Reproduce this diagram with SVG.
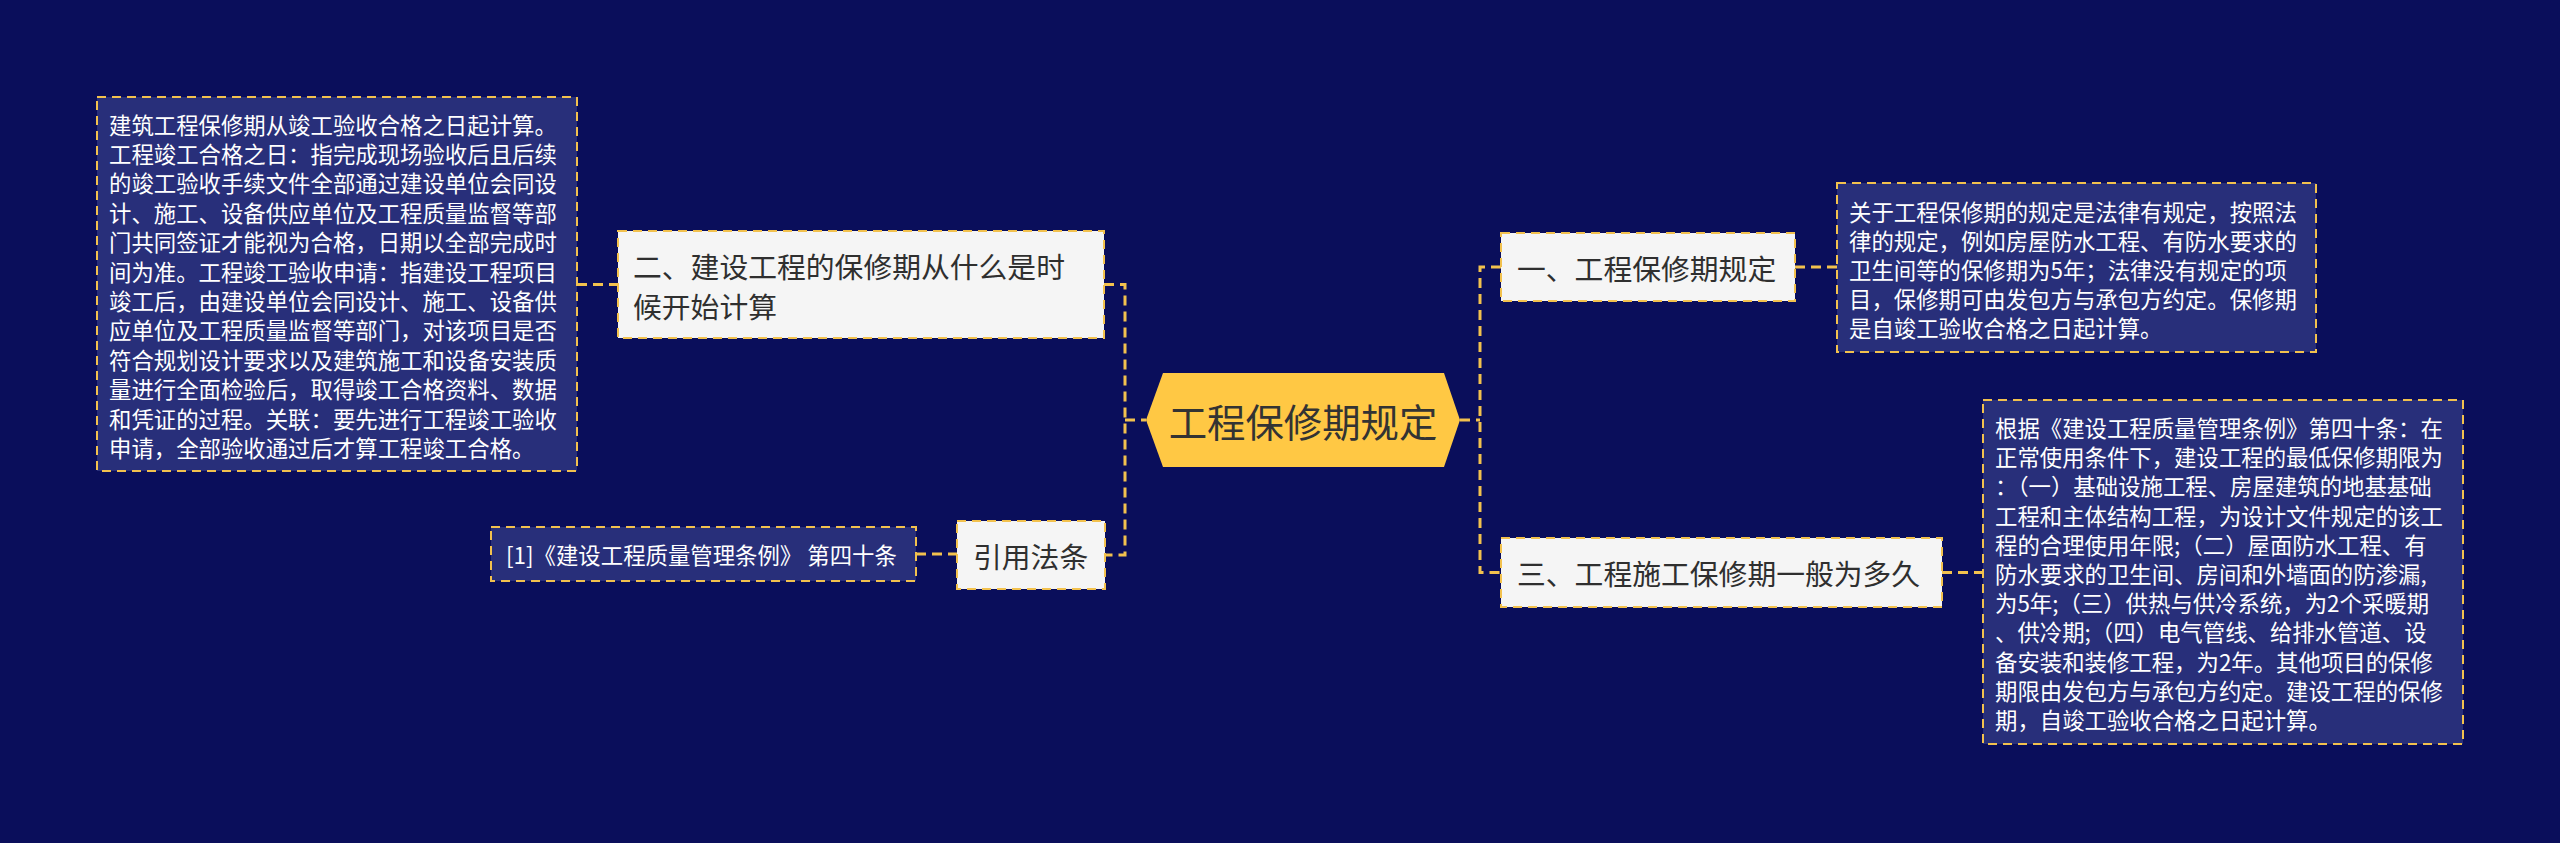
<svg xmlns="http://www.w3.org/2000/svg" width="2560" height="843" viewBox="0 0 2560 843">
<style>
.bg{fill:#0A0E5B}
.conn{fill:none;stroke:#F2C14E;stroke-width:3;stroke-dasharray:10 6}
.leaf{fill:#282F7A;stroke:#F2C14E;stroke-width:2;stroke-dasharray:9 6}
.node{fill:#F5F5F5;stroke:#F2C14E;stroke-width:2;stroke-dasharray:9 6}
.lt{font-family:"Noto Sans CJK SC","Noto Sans",sans-serif;font-size:22.4px;fill:#FFFFFF;dominant-baseline:central}
.nt{font-family:"Noto Sans CJK SC","Noto Sans",sans-serif;font-size:28.8px;fill:#2F2F2F;dominant-baseline:central}
.ct{font-family:"Noto Sans CJK SC","Noto Sans",sans-serif;font-size:38.4px;fill:#333333;dominant-baseline:central;text-anchor:middle}
</style>
<rect class="bg" x="0" y="0" width="2560" height="843"/>
<g id="connectors">
<path class="conn" d="M577 284.5 H618"/>
<path class="conn" d="M916 554 H957"/>
<path class="conn" d="M1104 284.5 H1125 V555 H1105"/>
<path class="conn" d="M1125 420 H1146"/>
<path class="conn" d="M1460 420 H1480"/>
<path class="conn" d="M1501 267 H1480 V572.5 H1501"/>
<path class="conn" d="M1795 267 H1837"/>
<path class="conn" d="M1942 572.5 H1983"/>
</g>
<g id="center">
<polygon points="1146,420 1163,373 1444,373 1460,420 1444,467 1163,467" fill="#FFC844"/>
<text class="ct" x="1303" y="420">工程保修期规定</text>
</g>
<g id="node-2">
<rect class="node" x="618" y="231" width="486" height="107"/>
<text class="nt" x="633" y="265">二、建设工程的保修期从什么是时</text>
<text class="nt" x="633" y="305">候开始计算</text>
</g>
<g id="leaf-2">
<rect class="leaf" x="97" y="97" width="480" height="374"/>
<text class="lt" x="109" y="123.6">建筑工程保修期从竣工验收合格之日起计算。</text>
<text class="lt" x="109" y="153">工程竣工合格之日：指完成现场验收后且后续</text>
<text class="lt" x="109" y="182.4">的竣工验收手续文件全部通过建设单位会同设</text>
<text class="lt" x="109" y="211.8">计、施工、设备供应单位及工程质量监督等部</text>
<text class="lt" x="109" y="241.2">门共同签证才能视为合格，日期以全部完成时</text>
<text class="lt" x="109" y="270.6">间为准。工程竣工验收申请：指建设工程项目</text>
<text class="lt" x="109" y="300">竣工后，由建设单位会同设计、施工、设备供</text>
<text class="lt" x="109" y="329.4">应单位及工程质量监督等部门，对该项目是否</text>
<text class="lt" x="109" y="358.8">符合规划设计要求以及建筑施工和设备安装质</text>
<text class="lt" x="109" y="388.2">量进行全面检验后，取得竣工合格资料、数据</text>
<text class="lt" x="109" y="417.6">和凭证的过程。关联：要先进行工程竣工验收</text>
<text class="lt" x="109" y="447">申请，全部验收通过后才算工程竣工合格。</text>
</g>
<g id="node-ref">
<rect class="node" x="957" y="521" width="148" height="68"/>
<text class="nt" x="973" y="555">引用法条</text>
</g>
<g id="leaf-ref">
<rect class="leaf" x="491" y="527" width="425" height="54"/>
<text class="lt" x="506" y="554">[1]《建设工程质量管理条例》 第四十条</text>
</g>
<g id="node-1">
<rect class="node" x="1501" y="233" width="294" height="68"/>
<text class="nt" x="1517" y="267">一、工程保修期规定</text>
</g>
<g id="leaf-1">
<rect class="leaf" x="1837" y="183" width="479" height="169"/>
<text class="lt" x="1849" y="210.5">关于工程保修期的规定是法律有规定，按照法</text>
<text class="lt" x="1849" y="239.7">律的规定，例如房屋防水工程、有防水要求的</text>
<text class="lt" x="1849" y="268.9">卫生间等的保修期为5年；法律没有规定的项</text>
<text class="lt" x="1849" y="298.1">目，保修期可由发包方与承包方约定。保修期</text>
<text class="lt" x="1849" y="327.3">是自竣工验收合格之日起计算。</text>
</g>
<g id="node-3">
<rect class="node" x="1501" y="538" width="441" height="69"/>
<text class="nt" x="1517" y="572.5">三、工程施工保修期一般为多久</text>
</g>
<g id="leaf-3">
<rect class="leaf" x="1983" y="400" width="480" height="344"/>
<text class="lt" x="1995" y="427">根据《建设工程质量管理条例》第四十条：在</text>
<text class="lt" x="1995" y="456.2">正常使用条件下，建设工程的最低保修期限为</text>
<text class="lt" x="1995" y="485.4">：（一）基础设施工程、房屋建筑的地基基础</text>
<text class="lt" x="1995" y="514.6">工程和主体结构工程，为设计文件规定的该工</text>
<text class="lt" x="1995" y="543.8">程的合理使用年限;（二）屋面防水工程、有</text>
<text class="lt" x="1995" y="573">防水要求的卫生间、房间和外墙面的防渗漏,</text>
<text class="lt" x="1995" y="602.2">为5年;（三）供热与供冷系统，为2个采暖期</text>
<text class="lt" x="1995" y="631.4">、供冷期;（四）电气管线、给排水管道、设</text>
<text class="lt" x="1995" y="660.6">备安装和装修工程，为2年。其他项目的保修</text>
<text class="lt" x="1995" y="689.8">期限由发包方与承包方约定。建设工程的保修</text>
<text class="lt" x="1995" y="719">期，自竣工验收合格之日起计算。</text>
</g>
</svg>
